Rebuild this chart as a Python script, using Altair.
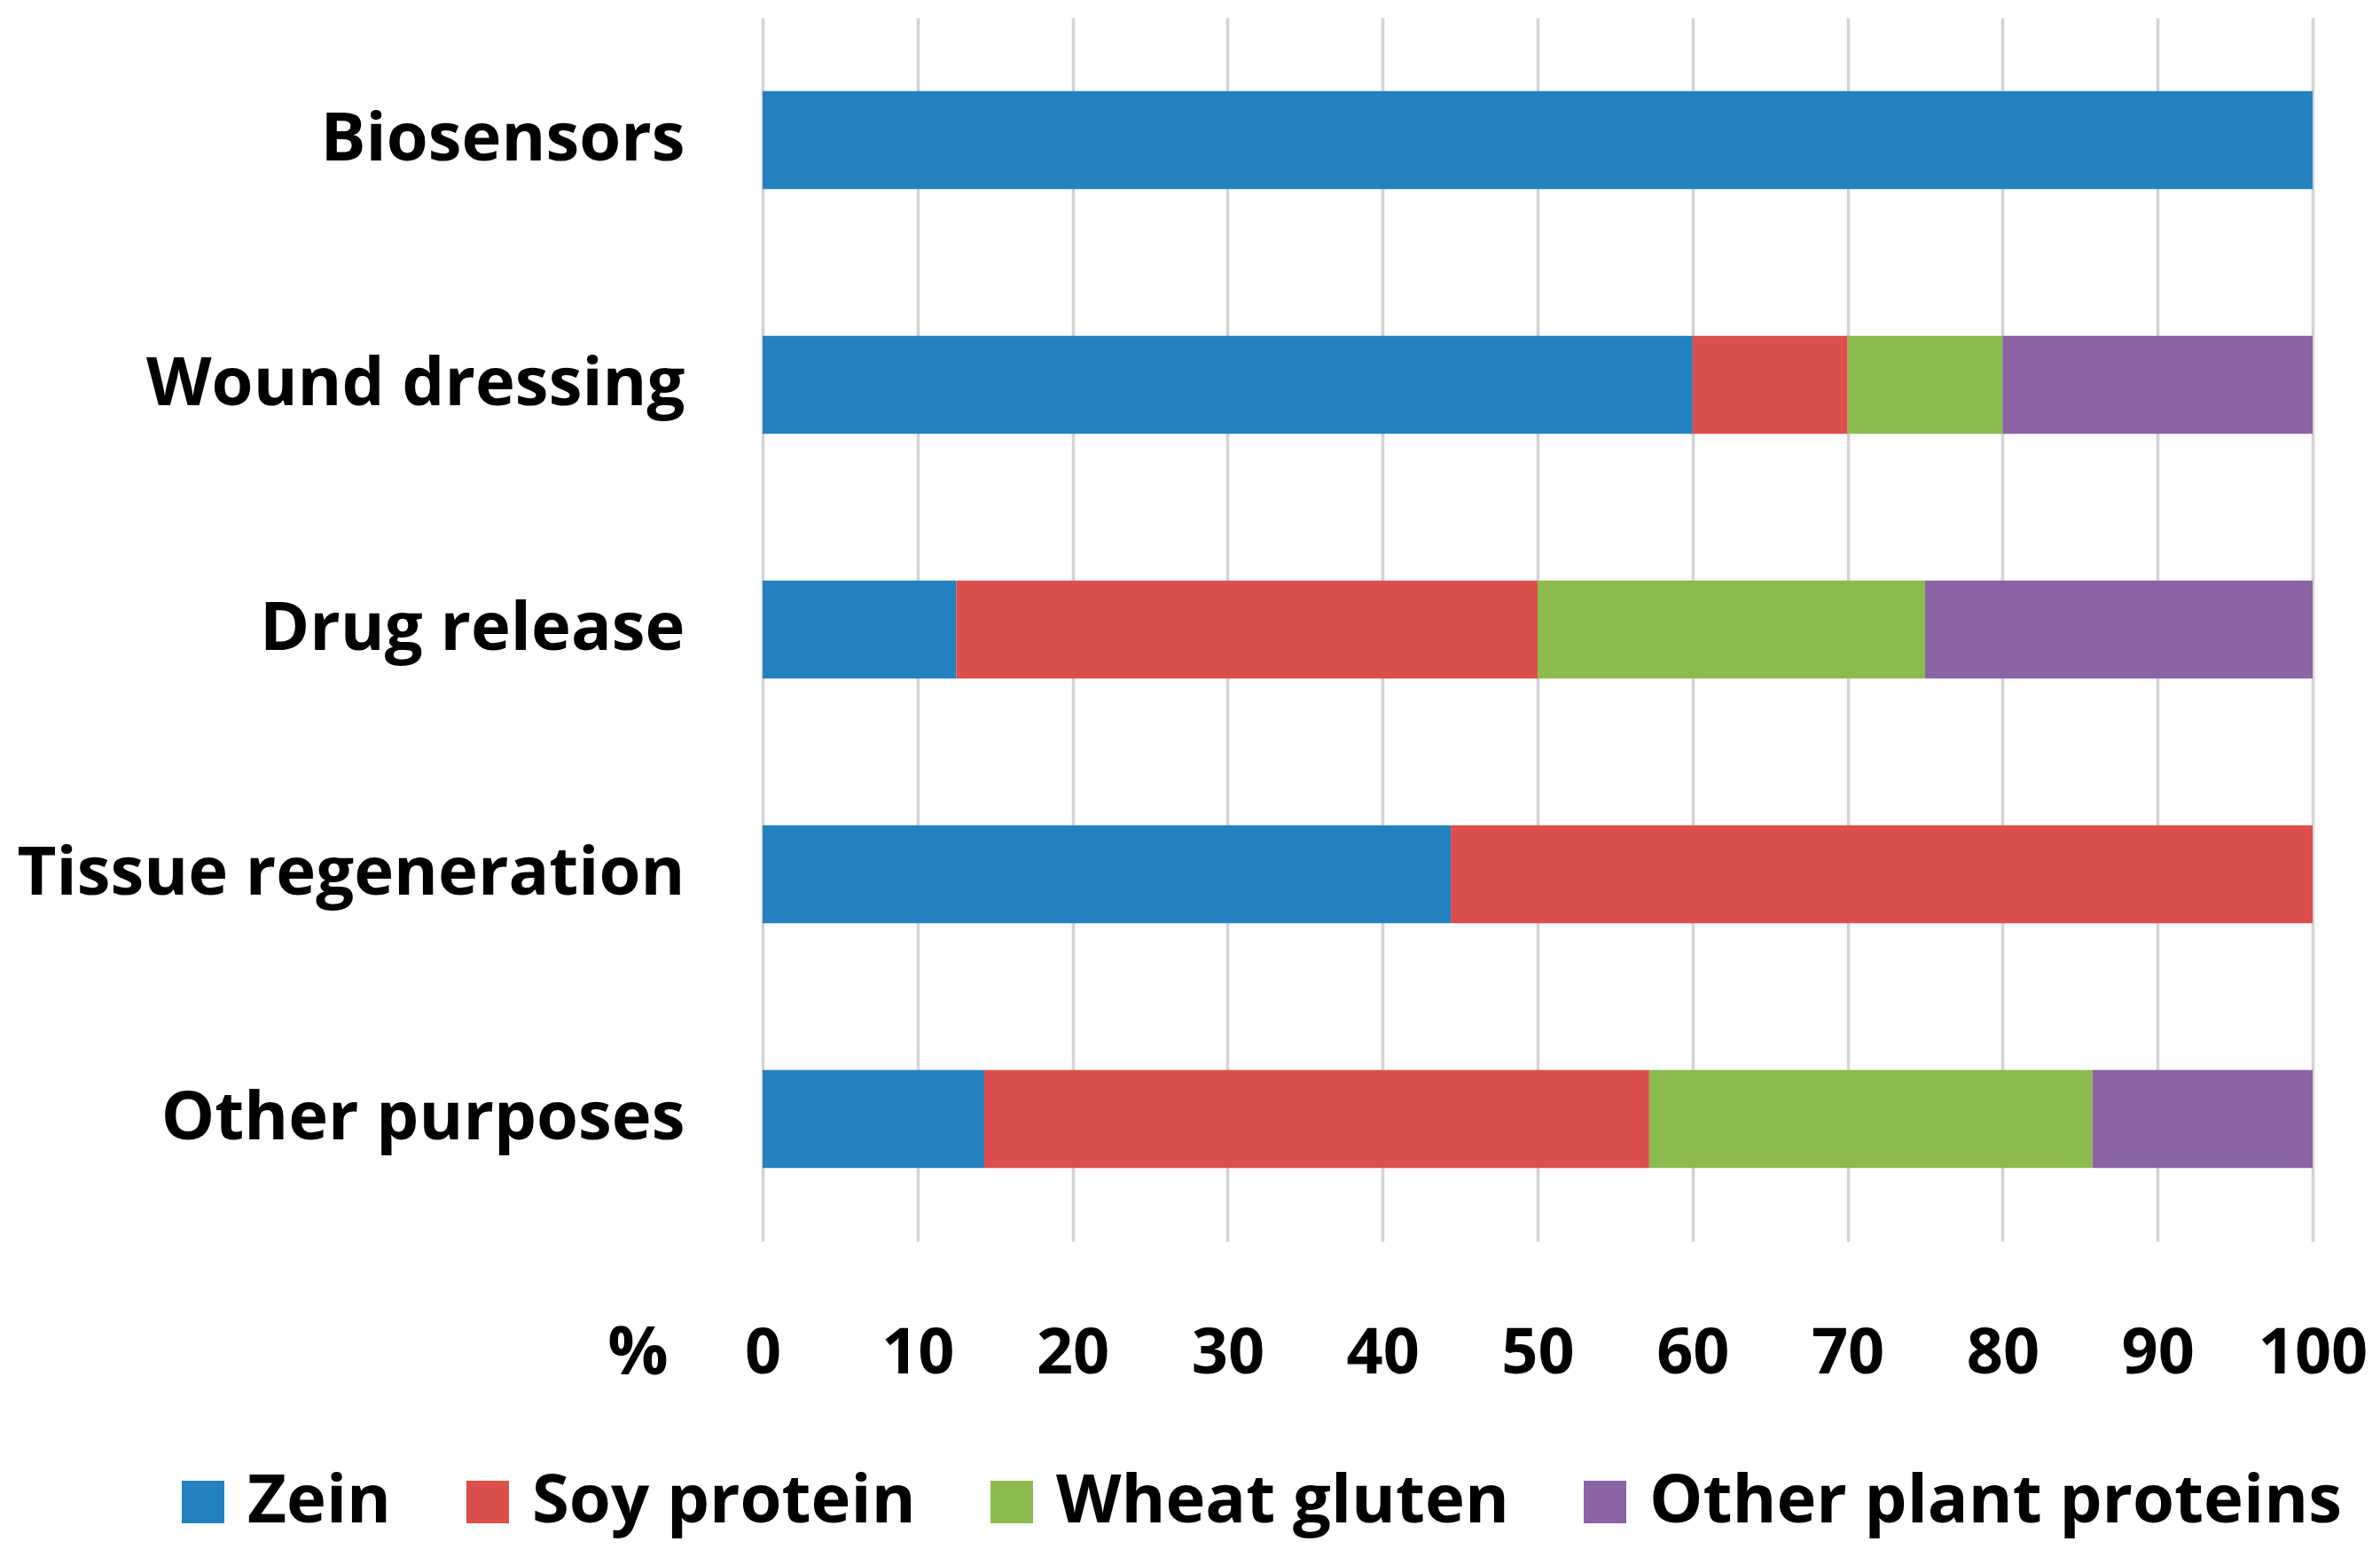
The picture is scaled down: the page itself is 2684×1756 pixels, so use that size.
import altair as alt
import pandas as pd

categories = ["Biosensors", "Wound dressing", "Drug release", "Tissue regeneration", "Other purposes"]
series = ["Zein", "Soy protein", "Wheat gluten", "Other plant proteins"]
zein = [100, 60, 12.5, 44.4, 14.3]
soy = [0, 10, 37.5, 55.6, 42.9]
wheat = [0, 10, 25, 0, 28.6]
other_plant = [0, 20, 25, 0, 14.2]
colors = ["#2481c0", "#dc4f4d", "#8dba4e", "#8b64a3"]
x_ticks = [0, 10, 20, 30, 40, 50, 60, 70, 80, 90, 100]

rows = []
for si, (name, vals) in enumerate(zip(series, [zein, soy, wheat, other_plant])):
    for c, v in zip(categories, vals):
        if v > 0:
            rows.append({"Application": c, "Protein": name, "Share": v, "ord": si})
df = pd.DataFrame(rows)

FONT = "Open Sans"
FS = 76
TFS = 72

chart = alt.Chart(df).mark_bar().encode(
    x=alt.X(
        "Share:Q",
        stack="zero",
        scale=alt.Scale(domain=[0, 100], nice=False),
        axis=alt.Axis(
            values=x_ticks,
            title="%",
            titleAngle=0,
            titleX=-141,
            titleY=126,
            titleAlign="center",
            titleBaseline="middle",
            titleFont=FONT,
            titleFontSize=FS,
            titleFontWeight="bold",
            titleColor="black",
            labelPadding=126,
            labelBaseline="middle",
            labelFont=FONT,
            labelFontSize=TFS,
            labelFontWeight="bold",
            labelColor="black",
            labelFlush=False,
            labelOverlap=False,
            grid=True,
            gridColor="#d3d3d3",
            gridWidth=3.5,
            domain=False,
            ticks=False,
            tickSize=0,
        ),
    ),
    y=alt.Y(
        "Application:N",
        sort=categories,
        scale=alt.Scale(paddingInner=0.6, paddingOuter=0.3),
        axis=alt.Axis(
            title=None,
            labelPadding=88,
            labelFont=FONT,
            labelFontSize=FS,
            labelFontWeight="bold",
            labelColor="black",
            labelLimit=2000,
            domain=False,
            ticks=False,
            tickSize=0,
            grid=False,
        ),
    ),
    color=alt.Color(
        "Protein:N",
        scale=alt.Scale(domain=series, range=colors),
        legend=alt.Legend(
            title=None,
            orient="none",
            legendX=-669,
            legendY=1636,
            direction="horizontal",
            columns=4,
            symbolType="square",
            symbolSize=2304,
            symbolStrokeWidth=0,
            symbolOpacity=1,
            labelFont=FONT,
            labelFontSize=FS,
            labelFontWeight="bold",
            labelColor="black",
            labelLimit=2000,
            labelOffset=12,
            columnPadding=70,
        ),
    ),
    order=alt.Order("ord:Q"),
).properties(
    width=1748,
    height=1380,
    autosize="none",
    padding={"left": 852, "top": 12, "right": 64, "bottom": 346},
).configure_view(stroke=None)

chart.save("out.html", embed_options={"renderer": "svg", "actions": False})
